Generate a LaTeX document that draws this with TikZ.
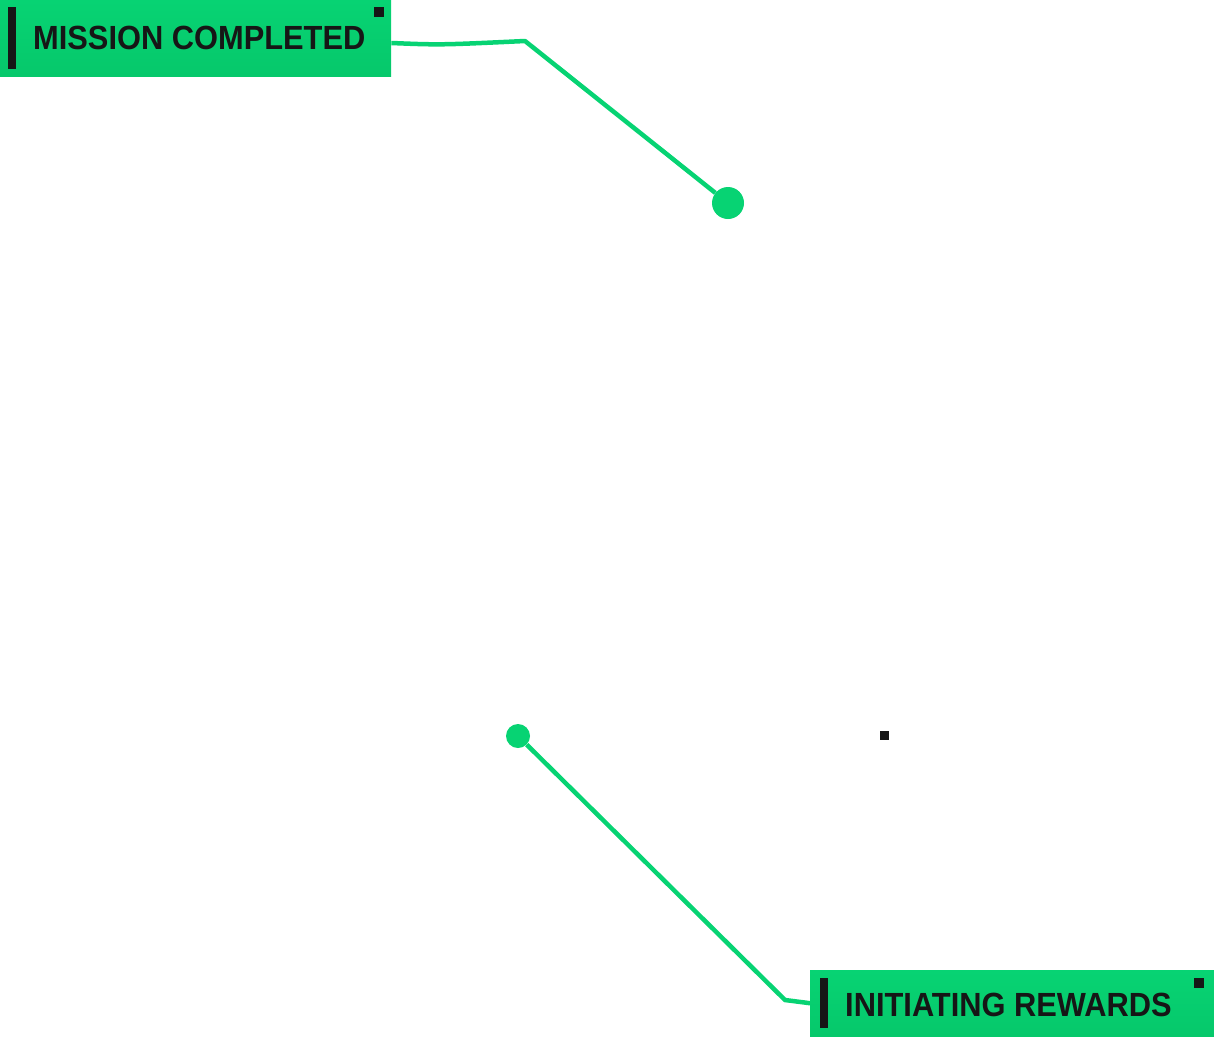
\documentclass[tikz,border=0pt]{standalone}
\usepackage{fontspec}
\setmainfont{Liberation Sans}[FakeStretch=0.92]
\usetikzlibrary{positioning, calc}
\definecolor{tagGreen}{HTML}{07D373}
\definecolor{tagDark}{HTML}{06C86B}
\definecolor{ink}{HTML}{161616}

\begin{document}
\begin{tikzpicture}[x=1pt, y=-1pt,
    tag/.style={top color=tagGreen, bottom color=tagDark, inner sep=0pt, anchor=north west},
    tagtext/.style={anchor=base west, inner sep=0pt, text=ink, font=\fontsize{33.5}{33.5}\selectfont\bfseries},
    wire/.style={tagGreen, line width=4.5pt, line join=round},
    dot/.style={circle, fill=tagGreen, inner sep=0pt}]
    \useasboundingbox (0,0) rectangle (1214,1036);

    % Tags
    \node[tag, minimum width=391pt, minimum height=76pt] (mission) at (0,0) {};
    \fill[ink] (8,7) rectangle (16,69);
    \fill[ink] (374,7) rectangle (384,17);
    \node[tagtext] (missiontext) at (33,49) {MISSION COMPLETED};

    \node[tag, minimum width=404pt, minimum height=66pt] (rewards) at (810,970) {};
    \fill[ink] (820,978) rectangle (828,1028);
    \fill[ink] (1194,978) rectangle (1204,988);
    \node[tagtext] (rewardstext) at (845,1016) {INITIATING REWARDS};

    % Pins
    \node[dot, minimum size=32pt] (goal) at (728,203) {};
    \node[dot, minimum size=24pt] (start) at (518,736) {};
    \fill[ink] (880,731) rectangle (889,740);

    % Connectors
    \coordinate (bendA) at (525,41);
    \coordinate (bendB) at (785,1000);
    \draw[wire] (mission.east |- 0,43) .. controls (440,45) .. (bendA) -- (goal);
    \draw[wire] (start) -- (bendB) -- (rewards.west);
\end{tikzpicture}
\end{document}
